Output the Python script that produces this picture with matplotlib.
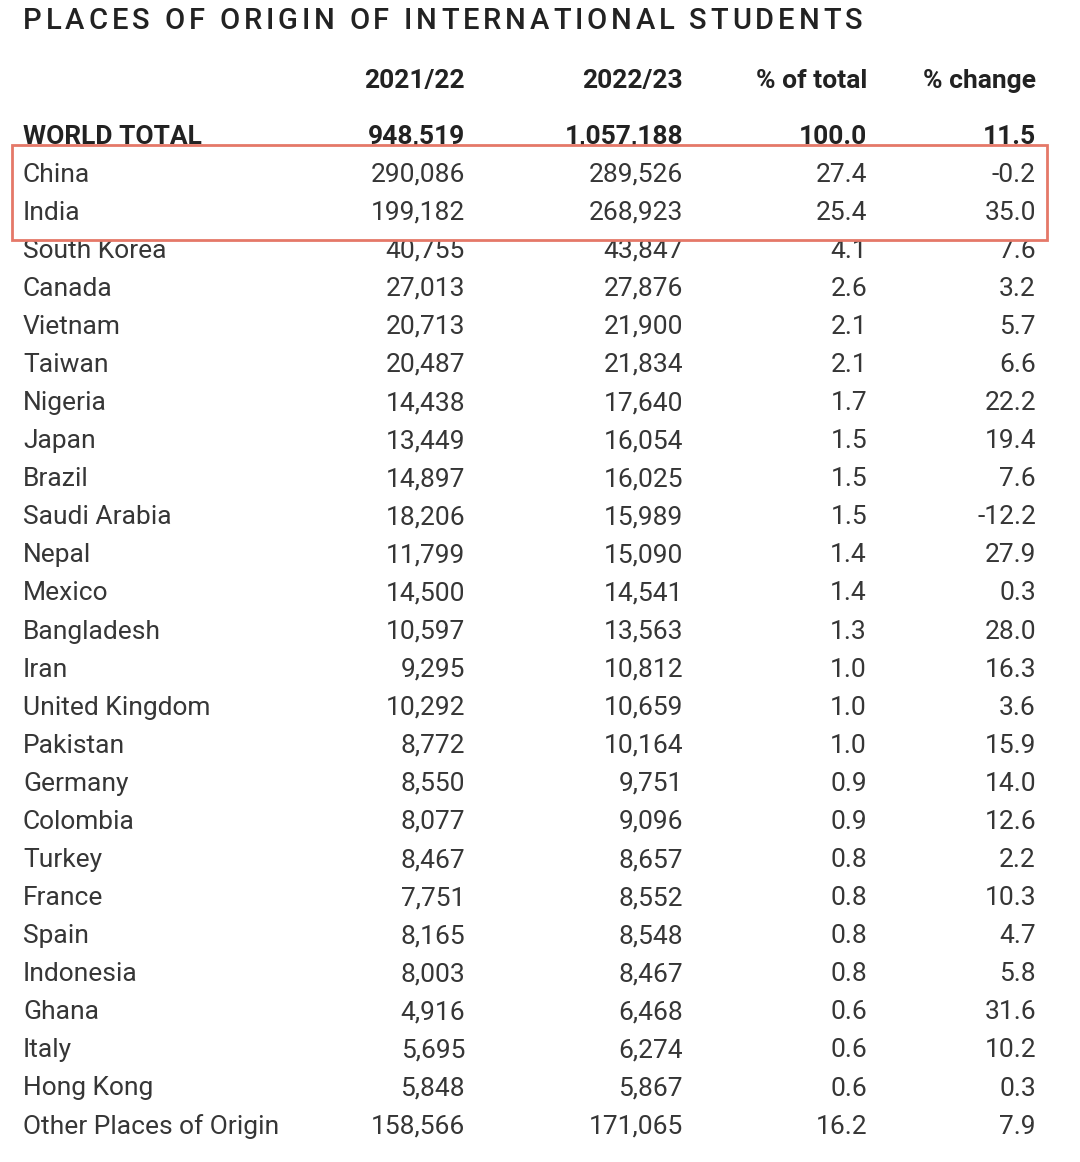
import matplotlib.pyplot as plt
from matplotlib.patches import Rectangle

# dados da tabela
titulo = "PLACES OF ORIGIN OF INTERNATIONAL STUDENTS"
cabecalho = ["2021/22", "2022/23", "% of total", "% change"]

paises = ["WORLD TOTAL", "China", "India", "South Korea", "Canada", "Vietnam", "Taiwan",
          "Nigeria", "Japan", "Brazil", "Saudi Arabia", "Nepal", "Mexico", "Bangladesh",
          "Iran", "United Kingdom", "Pakistan", "Germany", "Colombia", "Turkey", "France",
          "Spain", "Indonesia", "Ghana", "Italy", "Hong Kong", "Other Places of Origin"]
alunos_2122 = [948519, 290086, 199182, 40755, 27013, 20713, 20487, 14438, 13449, 14897,
               18206, 11799, 14500, 10597, 9295, 10292, 8772, 8550, 8077, 8467, 7751,
               8165, 8003, 4916, 5695, 5848, 158566]
alunos_2223 = [1057188, 289526, 268923, 43847, 27876, 21900, 21834, 17640, 16054, 16025,
               15989, 15090, 14541, 13563, 10812, 10659, 10164, 9751, 9096, 8657, 8552,
               8548, 8467, 6468, 6274, 5867, 171065]
pct_total = [100.0, 27.4, 25.4, 4.1, 2.6, 2.1, 2.1, 1.7, 1.5, 1.5, 1.5, 1.4, 1.4, 1.3,
             1.0, 1.0, 1.0, 0.9, 0.9, 0.8, 0.8, 0.8, 0.8, 0.6, 0.6, 0.6, 16.2]
pct_change = [11.5, -0.2, 35.0, 7.6, 3.2, 5.7, 6.6, 22.2, 19.4, 7.6, -12.2, 27.9, 0.3,
              28.0, 16.3, 3.6, 15.9, 14.0, 12.6, 2.2, 10.3, 4.7, 5.8, 31.6, 10.2, 0.3, 7.9]
destaque = ["China", "India"]  # linhas dentro da caixa vermelha

fonte = "Roboto"
cor_texto = "#363636"

fig = plt.figure(figsize=(10.8, 11.62), dpi=100, facecolor="white")
ax = fig.add_axes([0, 0, 1, 1])
ax.set_xlim(0, 1080)
ax.set_ylim(1162, 0)
ax.axis("off")

# titulo com espaçamento entre letras (letra por letra)
fig.canvas.draw()
renderer = fig.canvas.get_renderer()
x = 23
for letra in titulo:
    t = ax.text(x, 21, letra, fontsize=21, fontfamily=fonte, fontweight="medium",
                color="#222222", ha="left", va="center")
    if letra == " ":
        largura = 7
    else:
        bb = t.get_window_extent(renderer)
        largura = bb.width
    x += largura + 3.9

# colunas (borda direita)
col_x = [465, 683, 867, 1036]
for cx, h in zip(col_x, cabecalho):
    ax.text(cx, 81, h, fontsize=19, fontfamily=fonte, fontweight="bold",
            color="#222222", ha="right", va="center")

y0 = 136.5
passo = 38.08
for i, p in enumerate(paises):
    y = y0 + i * passo
    peso = "bold" if i == 0 else "normal"
    cor = "#222222" if i == 0 else cor_texto
    z = 4 if p in destaque else 2
    valores = [f"{alunos_2122[i]:,}", f"{alunos_2223[i]:,}",
               f"{pct_total[i]:.1f}", f"{pct_change[i]:.1f}"]
    ax.text(23, y, p, fontsize=19, fontfamily=fonte, fontweight=peso, color=cor,
            ha="left", va="center", zorder=z)
    for cx, v in zip(col_x, valores):
        ax.text(cx, y, v, fontsize=19, fontfamily=fonte, fontweight=peso, color=cor,
                ha="right", va="center", zorder=z)

# caixa vermelha de destaque
caixa = Rectangle((12, 145), 1035, 95, facecolor="white", edgecolor="#e57868",
                  linewidth=2, zorder=3)
ax.add_patch(caixa)

plt.savefig("out.png", dpi=100, facecolor="white")
